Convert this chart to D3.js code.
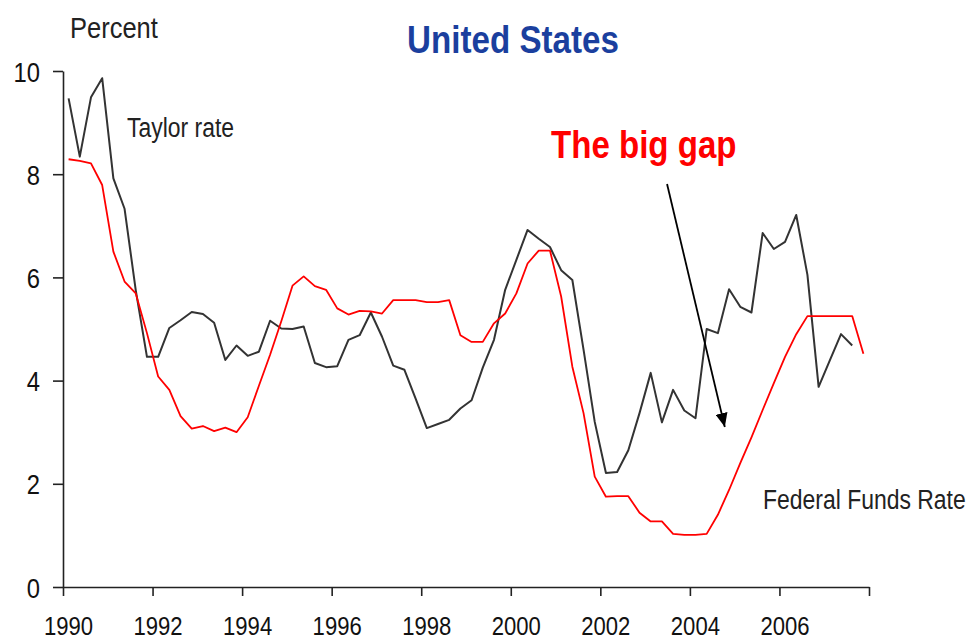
<!DOCTYPE html>
<html>
<head>
<meta charset="utf-8">
<script src="https://cdn.jsdelivr.net/npm/d3@7"></script>
<style>
  body { margin: 0; background: #fff; }
  svg { display: block; font-family: "Liberation Sans", Arial, sans-serif; }
</style>
</head>
<body>
<svg class="chart" width="972" height="640"></svg>
<script>
// quarterly series, first point 1990Q1 (plotted mid-quarter)
var startYear = 1990.125;
var step = 0.25;

var taylorRate = [
    9.47, 8.34, 9.49, 9.86, 7.92, 7.33, 5.75, 4.46, 4.46, 5.02,
    5.17, 5.33, 5.29, 5.12, 4.40, 4.68, 4.48, 4.56, 5.16, 5.01,
    5.00, 5.05, 4.34, 4.26, 4.28, 4.79, 4.88, 5.32, 4.85, 4.29,
    4.21, 3.65, 3.08, 3.16, 3.24, 3.46, 3.62, 4.25, 4.79, 5.76,
    6.34, 6.92, 6.75, 6.59, 6.14, 5.95, 4.60, 3.20, 2.21, 2.23,
    2.65, 3.37, 4.15, 3.19, 3.82, 3.42, 3.27, 5.00, 4.92, 5.77,
    5.43, 5.32, 6.86, 6.55, 6.69, 7.21, 6.05, 3.88, 4.39, 4.90,
    4.68
];

var fedFunds = [
    8.29, 8.26, 8.21, 7.79, 6.50, 5.92, 5.69, 4.92, 4.08, 3.82,
    3.31, 3.07, 3.12, 3.02, 3.09, 3.00, 3.29, 3.90, 4.50, 5.15,
    5.84, 6.02, 5.83, 5.76, 5.40, 5.28, 5.35, 5.34, 5.30, 5.56,
    5.56, 5.56, 5.52, 5.52, 5.56, 4.88, 4.75, 4.75, 5.11, 5.30,
    5.69, 6.27, 6.52, 6.52, 5.63, 4.27, 3.37, 2.14, 1.75, 1.76,
    1.76, 1.44, 1.27, 1.27, 1.03, 1.01, 1.01, 1.03, 1.40, 1.88,
    2.40, 2.90, 3.43, 3.95, 4.46, 4.90, 5.25, 5.25, 5.25, 5.25,
    5.25, 4.52
];

var xTicks = [1990, 1992, 1994, 1996, 1998, 2000, 2002, 2004, 2006, 2008];
var yTicks = [0, 2, 4, 6, 8, 10];

// arrow for "The big gap": [year, value] start and tip
var gapArrow = [[2003.49, 7.81], [2004.78, 3.10]];

(function drawChart() {
    var svg = d3.select("svg.chart");
    var squeeze = 0.85;   // reference text is horizontally narrow

    var x = d3.scaleLinear().domain([1990, 2008]).range([63, 869]);
    var y = d3.scaleLinear().domain([0, 10]).range([587, 71]);

    // axes
    var xAxis = svg.append("g")
        .attr("transform", "translate(0," + y(0) + ")")
        .call(d3.axisBottom(x)
            .tickValues(xTicks)
            .tickSize(9)
            .tickSizeOuter(0)
            .tickFormat(function(d) { return d === 2008 ? "" : d; }));
    xAxis.selectAll("text")
        .attr("y", 48)
        .attr("dy", 0)
        .attr("x", 5 / squeeze)
        .attr("transform", "scale(" + squeeze + ",1)")
        .style("font-size", "26px")
        .attr("fill", "#111");

    var yAxis = svg.append("g")
        .attr("transform", "translate(" + x(1990) + ",0)")
        .call(d3.axisLeft(y)
            .tickValues(yTicks)
            .tickSize(10)
            .tickSizeOuter(0));
    yAxis.selectAll("text")
        .attr("x", -23 / squeeze)
        .attr("dy", "0.36em")
        .attr("transform", "scale(" + squeeze + ",1)")
        .style("font-size", "28px")
        .attr("fill", "#111");

    svg.selectAll(".domain, .tick line")
        .attr("stroke", "#222")
        .attr("stroke-width", 1.6);

    // lines
    var line = d3.line()
        .x(function(d, i) { return x(startYear + i * step); })
        .y(function(d) { return y(d); });

    svg.append("path")
        .datum(taylorRate)
        .attr("fill", "none")
        .attr("stroke", "#333")
        .attr("stroke-width", 2)
        .attr("stroke-linejoin", "round")
        .attr("d", line);

    svg.append("path")
        .datum(fedFunds)
        .attr("fill", "none")
        .attr("stroke", "#ff0000")
        .attr("stroke-width", 1.8)
        .attr("stroke-linejoin", "round")
        .attr("d", line);

    // arrow
    svg.append("defs").append("marker")
        .attr("id", "head")
        .attr("viewBox", "0 0 14 12")
        .attr("refX", 14)
        .attr("refY", 6)
        .attr("markerWidth", 14)
        .attr("markerHeight", 12)
        .attr("markerUnits", "userSpaceOnUse")
        .attr("orient", "auto")
        .append("path")
        .attr("d", "M0,0L14,6L0,12Z")
        .attr("fill", "#000");

    svg.append("line")
        .attr("x1", x(gapArrow[0][0]))
        .attr("y1", y(gapArrow[0][1]))
        .attr("x2", x(gapArrow[1][0]))
        .attr("y2", y(gapArrow[1][1]))
        .attr("stroke", "#000")
        .attr("stroke-width", 1.8)
        .attr("marker-end", "url(#head)");

    // texts
    function label(txt, px, py, size, colour, weight, anchor, sq) {
        svg.append("text")
            .attr("transform", "translate(" + px + "," + py + ") scale(" + (sq || squeeze) + ",1)")
            .attr("text-anchor", anchor || "start")
            .style("font-size", size + "px")
            .style("font-weight", weight || "normal")
            .attr("fill", colour)
            .text(txt);
    }

    label("Percent", 70, 38, 30, "#222");
    label("United States", 513, 53, 39, "#1b3f9e", "bold", "middle");
    label("Taylor rate", 127, 137, 27, "#222");
    label("The big gap", 551, 158, 38, "#ff0000", "bold", "start", 0.87);
    label("Federal Funds Rate", 763, 509, 27, "#222");
})();
</script>
</body>
</html>
